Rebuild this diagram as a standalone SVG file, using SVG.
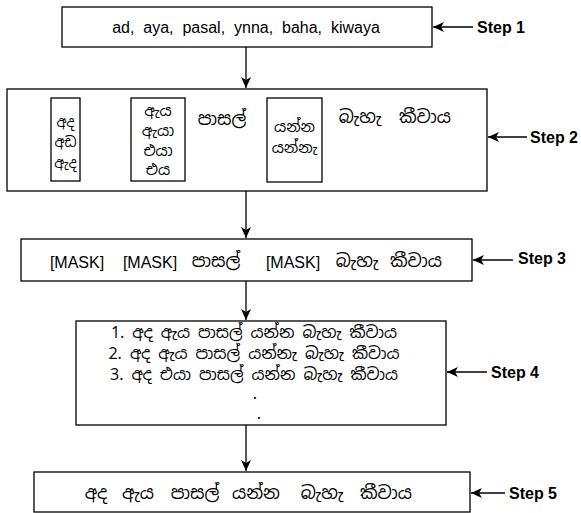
<svg xmlns="http://www.w3.org/2000/svg" width="581" height="513" viewBox="0 0 581 513">
<style>
.box{fill:#fff;stroke:#000;stroke-width:1.3}
.ibox{fill:#fff;stroke:#000;stroke-width:1.3}
.t{font-family:"Liberation Sans","Noto Sans Sinhala","Iskoola Pota",sans-serif;font-size:16px;fill:#000}
.si{font-family:"Noto Sans Sinhala","Iskoola Pota","Liberation Sans",sans-serif;font-size:17.5px;fill:#000}
.sm{font-size:15px}
.xs{font-size:14px}
.md{font-size:16px}
.step{font-family:"Liberation Sans",Arial,sans-serif;font-size:16px;font-weight:bold;fill:#000}
.c{stroke:#000;stroke-width:1.3;fill:none}
</style>
<defs>
<marker id="ah" markerUnits="userSpaceOnUse" markerWidth="12" markerHeight="10" refX="11" refY="5" orient="auto">
<path d="M0,0 L11,5 L0,10 L3,5 Z" fill="#000"/>
</marker>
</defs>
<g id="connectors">
<line class="c" x1="246" y1="47" x2="246" y2="88" marker-end="url(#ah)"/>
<line class="c" x1="246" y1="191" x2="246" y2="238" marker-end="url(#ah)"/>
<line class="c" x1="246" y1="281" x2="246" y2="320" marker-end="url(#ah)"/>
<line class="c" x1="246" y1="425" x2="246" y2="471" marker-end="url(#ah)"/>
<line class="c" x1="473" y1="27" x2="433" y2="27" marker-end="url(#ah)"/>
<line class="c" x1="527" y1="137" x2="488" y2="137" marker-end="url(#ah)"/>
<line class="c" x1="513" y1="260" x2="473" y2="260" marker-end="url(#ah)"/>
<line class="c" x1="487" y1="372" x2="447" y2="372" marker-end="url(#ah)"/>
<line class="c" x1="505" y1="493" x2="471" y2="493" marker-end="url(#ah)"/>
</g>
<g id="step1">
<rect class="box" x="62" y="7" width="370" height="40"/>
<text class="t" x="246" y="33" text-anchor="middle" xml:space="preserve">ad,  aya,  pasal,  ynna,  baha,  kiwaya</text>
</g>
<g id="step1-label"><text class="step" x="477" y="33">Step 1</text></g>
<g id="step2">
<rect class="box" x="7" y="89" width="480" height="102"/>
<rect class="ibox" x="51" y="98" width="29" height="83"/>
<text class="si xs" text-anchor="middle"><tspan x="65.5" y="127">අද</tspan><tspan x="65.5" y="147">අඩ</tspan><tspan x="65.5" y="168">ඇද</tspan></text>
<rect class="ibox" x="131" y="98" width="54" height="83"/>
<text class="si sm" text-anchor="middle"><tspan x="158" y="116">ඇය</tspan><tspan x="158" y="136">ඇයා</tspan><tspan x="158" y="156">එයා</tspan><tspan x="158" y="175">එය</tspan></text>
<text class="si" x="222" y="125" text-anchor="middle">පාසල්</text>
<rect class="ibox" x="267" y="98" width="55" height="84"/>
<text class="si sm" text-anchor="middle"><tspan x="294.5" y="132">යන්න</tspan><tspan x="294.5" y="153">යන්නැ</tspan></text>
<text class="si" x="360" y="123" text-anchor="middle">බැහැ</text>
<text class="si" x="425" y="123" text-anchor="middle">කීවාය</text>
</g>
<g id="step2-label"><text class="step" x="530" y="143">Step 2</text></g>
<g id="step3">
<rect class="box" x="21" y="239" width="451" height="42"/>
<text class="t" x="77" y="268" text-anchor="middle">[MASK]</text>
<text class="t" x="150" y="268" text-anchor="middle">[MASK]</text>
<text class="si" x="216" y="267" text-anchor="middle">පාසල්</text>
<text class="t" x="293" y="268" text-anchor="middle">[MASK]</text>
<text class="si" x="357" y="267" text-anchor="middle">බැහැ</text>
<text class="si" x="416" y="267" text-anchor="middle">කීවාය</text>
</g>
<g id="step3-label"><text class="step" x="518" y="264">Step 3</text></g>
<g id="step4">
<rect class="box" x="76" y="321" width="370" height="104"/>
<text class="si md" text-anchor="middle">
<tspan x="258" y="338">1. අද ඇය පාසල් යන්න බැහැ කීවාය</tspan>
<tspan x="258" y="359">2. අද ඇය පාසල් යන්නැ බැහැ කීවාය</tspan>
<tspan x="258" y="380">3. අද එයා පාසල් යන්න බැහැ කීවාය</tspan>
<tspan x="259" y="399">.</tspan>
<tspan x="259" y="419">.</tspan>
</text>
</g>
<g id="step4-label"><text class="step" x="491" y="378">Step 4</text></g>
<g id="step5">
<rect class="box" x="34" y="472" width="436" height="40"/>
<text class="si" x="96" y="499" text-anchor="middle">අද</text>
<text class="si" x="138" y="499" text-anchor="middle">ඇය</text>
<text class="si" x="195" y="499" text-anchor="middle">පාසල්</text>
<text class="si" x="256" y="499" text-anchor="middle">යන්න</text>
<text class="si" x="322" y="499" text-anchor="middle">බැහැ</text>
<text class="si" x="386" y="499" text-anchor="middle">කීවාය</text>
</g>
<g id="step5-label"><text class="step" x="509" y="499">Step 5</text></g>
</svg>
